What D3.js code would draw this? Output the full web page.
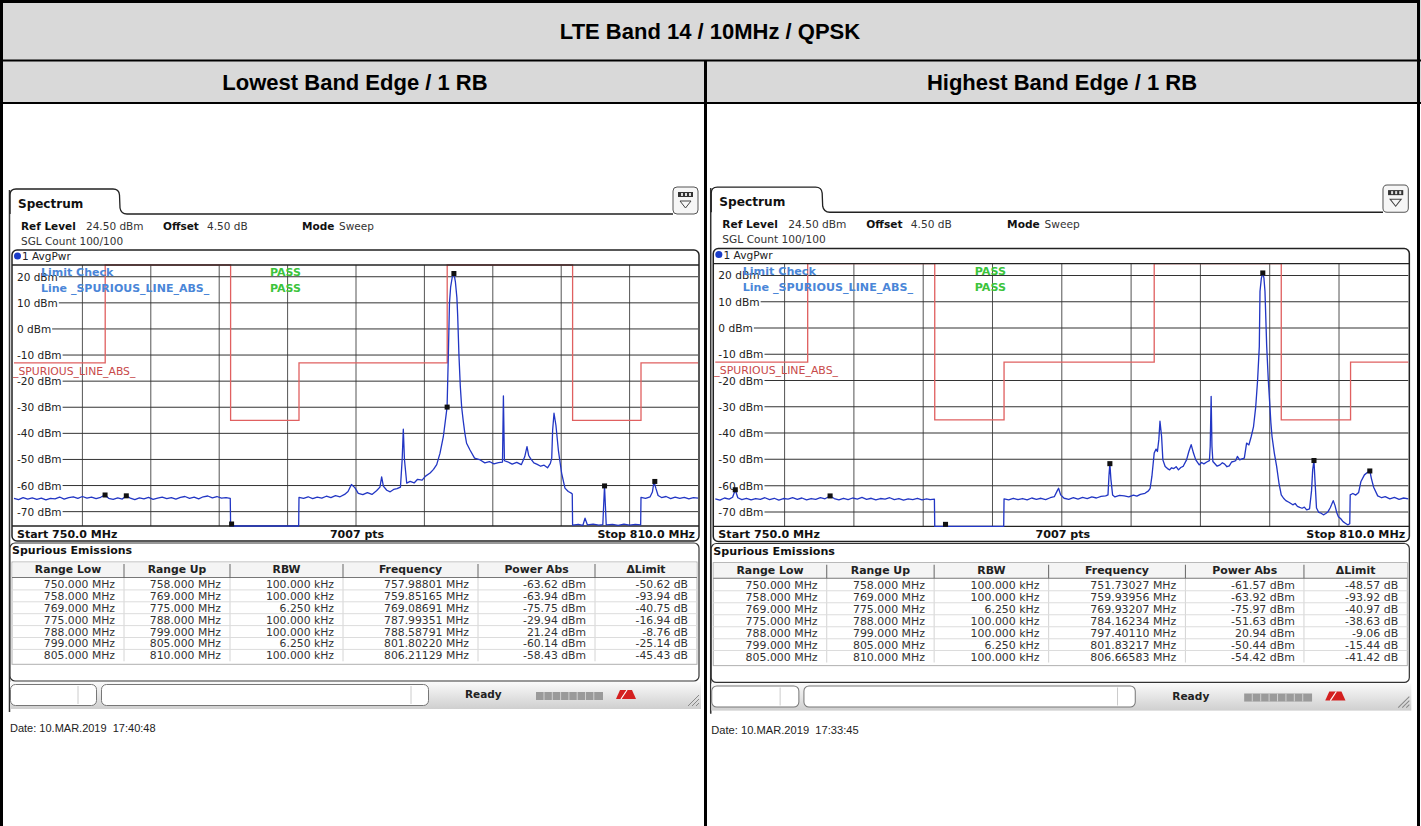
<!DOCTYPE html>
<html><head><meta charset="utf-8">
<script src="https://cdn.jsdelivr.net/npm/d3@7"></script>
<style>
body{margin:0;background:#fff}
svg{display:block}
text{font-family:"DejaVu Sans",Verdana,sans-serif}
.ar{font-family:"Liberation Sans",Arial,sans-serif}
</style>
</head><body>
<svg id="c" width="1421" height="826"></svg>
<script>
// ---------------- data ----------------
const titleText = "LTE Band 14 / 10MHz / QPSK";
const panelTitles = ["Lowest Band Edge / 1 RB", "Highest Band Edge / 1 RB"];
const freqStartMHz = 750, freqStopMHz = 810, sweepPoints = 7007;
const refLevelDbm = 24.5, bottomDbm = -75.5;
const dbmTicks = [20, 10, 0, -10, -20, -30, -40, -50, -60, -70];
const freqGridMHz = [756, 762, 768, 774, 780, 786, 792, 798, 804];
const limitEdgesMHz = [750, 758, 769, 775, 788, 799, 805, 810];
const limitLevelsDbm = [-13, 30, -35, -13, 30, -35, -13];
const tableHeaders = ["Range Low", "Range Up", "RBW", "Frequency", "Power Abs", "\u0394Limit"];
const rangeLowMHz = [750, 758, 769, 775, 788, 799, 805];
const rangeUpMHz = [758, 769, 775, 788, 799, 805, 810];
const rbwKHz = [100, 100, 6.25, 100, 100, 6.25, 100];
const lowFreqMHz = [757.98801, 759.85165, 769.08691, 787.99351, 788.58791, 801.80220, 806.21129];
const lowPowerDbm = [-63.62, -63.94, -75.75, -29.94, 21.24, -60.14, -58.43];
const lowDeltaDb = [-50.62, -93.94, -40.75, -16.94, -8.76, -25.14, -45.43];
const highFreqMHz = [751.73027, 759.93956, 769.93207, 784.16234, 797.40110, 801.83217, 806.66583];
const highPowerDbm = [-61.57, -63.92, -75.97, -51.63, 20.94, -50.44, -54.42];
const highDeltaDb = [-48.57, -93.92, -40.97, -38.63, -9.06, -15.44, -41.42];
const dateTexts = ["Date: 10.MAR.2019  17:40:48", "Date: 10.MAR.2019  17:33:45"];

const lowTrace = [
[750.0,-64.9],[750.4,-65.4],[750.8,-64.6],[751.2,-65.2],[751.6,-64.7],[752.0,-65.3],[752.4,-64.8],[752.8,-65.5],[753.2,-64.9],[753.6,-65.1],
[754.0,-64.4],[754.4,-65.2],[754.8,-64.6],[755.2,-64.3],[755.6,-64.9],[756.0,-64.2],[756.4,-64.8],[756.8,-64.4],[757.2,-65.0],[757.6,-64.5],
[757.99,-63.6],[758.3,-64.9],[758.7,-65.3],[759.1,-64.7],[759.5,-65.2],[759.85,-63.9],[760.2,-64.8],[760.6,-65.4],[761.0,-64.7],[761.4,-65.1],
[761.8,-64.5],[762.2,-65.3],[762.6,-64.8],[763.0,-64.4],[763.4,-65.0],[763.8,-64.6],[764.2,-65.2],[764.6,-64.5],[765.0,-64.2],[765.4,-64.9],
[765.8,-64.4],[766.2,-65.1],[766.6,-64.3],[767.0,-64.0],[767.4,-64.7],[767.8,-64.2],[768.2,-64.8],[768.6,-64.6],[768.97,-64.9],
[769.0,-77.0],[770.5,-77.0],[772.0,-77.0],[773.5,-77.0],[774.97,-77.0],
[775.0,-64.5],[775.4,-64.9],[775.8,-64.3],[776.2,-65.0],[776.6,-64.4],[777.0,-64.8],[777.4,-64.1],[777.8,-64.6],[778.2,-63.9],[778.6,-64.3],
[779.0,-63.4],[779.3,-62.3],[779.6,-59.6],[779.9,-60.8],[780.2,-63.0],[780.6,-63.5],[781.0,-62.7],[781.4,-63.4],[781.8,-62.0],[782.1,-60.6],
[782.25,-56.7],[782.4,-60.2],[782.7,-61.8],[783.0,-62.4],[783.3,-61.5],[783.6,-61.2],[783.9,-60.6],[784.05,-50.0],[784.15,-38.4],[784.25,-50.0],
[784.45,-59.1],[784.75,-58.4],[785.1,-59.0],[785.4,-57.6],[785.8,-57.9],[786.1,-56.4],[786.5,-55.2],[786.8,-53.8],[787.08,-52.0],[787.37,-47.6],
[787.66,-41.3],[787.99,-29.94],[788.1,-10.0],[788.2,10.0],[788.3,16.0],[788.45,20.0],[788.59,21.24],[788.72,18.0],[788.85,12.0],[788.92,5.0],
[789.03,-10.0],[789.15,-22.0],[789.27,-30.0],[789.4,-35.0],[789.55,-40.0],[789.7,-43.8],[790.0,-46.4],[790.4,-49.5],[790.9,-50.2],[791.3,-51.3],
[791.7,-50.8],[792.1,-51.7],[792.5,-51.2],[792.85,-51.0],[792.93,-25.7],[793.02,-50.5],[793.3,-50.9],[793.7,-51.8],[794.1,-51.1],[794.5,-52.0],
[794.8,-49.0],[795.0,-45.1],[795.15,-48.5],[795.3,-49.6],[795.6,-51.3],[795.9,-51.9],[796.2,-52.6],[796.5,-52.2],[796.8,-53.2],[797.05,-51.5],
[797.17,-49.5],[797.25,-38.7],[797.37,-32.3],[797.54,-37.0],[797.75,-46.4],[797.89,-50.8],[798.04,-55.3],[798.33,-61.0],[798.62,-62.3],[798.92,-63.0],
[798.97,-63.2],
[799.0,-75.2],[799.5,-74.9],[799.9,-75.3],[800.09,-72.5],[800.3,-75.1],[800.8,-74.8],[801.3,-75.2],[801.65,-75.0],[801.72,-68.0],[801.8,-60.14],
[801.88,-68.0],[801.95,-75.1],[802.5,-74.9],[803.0,-75.3],[803.5,-74.8],[804.0,-75.2],[804.5,-74.9],[804.97,-75.1],
[805.0,-64.5],[805.4,-64.9],[805.8,-64.3],[806.0,-62.5],[806.14,-58.5],[806.3,-61.0],[806.5,-63.8],[806.8,-64.6],[807.2,-64.2],[807.6,-65.0],
[808.0,-64.4],[808.4,-64.9],[808.8,-64.5],[809.2,-65.1],[809.6,-64.6],[810.0,-64.8]
];

const highTrace = [
[750.0,-65.0],[750.4,-65.5],[750.8,-64.7],[751.2,-65.1],[751.5,-64.4],[751.73,-61.57],[751.95,-64.6],[752.3,-65.3],[752.7,-64.8],[753.1,-65.4],
[753.5,-64.9],[753.9,-65.2],[754.3,-64.6],[754.7,-65.3],[755.1,-64.8],[755.5,-65.5],[755.9,-64.9],[756.3,-65.1],[756.7,-64.6],[757.1,-65.2],
[757.5,-64.7],[757.9,-65.4],[758.3,-64.9],[758.7,-65.2],[759.1,-64.6],[759.5,-65.0],[759.94,-63.92],[760.3,-64.9],[760.7,-65.4],[761.1,-64.8],
[761.5,-65.3],[761.9,-64.7],[762.3,-65.1],[762.7,-64.5],[763.1,-65.2],[763.5,-64.8],[763.9,-65.4],[764.3,-64.9],[764.7,-65.1],[765.1,-64.6],
[765.5,-65.3],[765.9,-64.9],[766.3,-65.5],[766.7,-65.0],[767.1,-65.3],[767.5,-64.8],[767.9,-65.4],[768.3,-65.0],[768.6,-65.3],[768.97,-65.1],
[769.0,-77.0],[770.5,-77.0],[772.0,-77.0],[773.5,-77.0],[774.97,-77.0],
[775.0,-65.0],[775.4,-65.4],[775.8,-64.8],[776.2,-65.3],[776.6,-64.9],[777.0,-65.4],[777.4,-64.7],[777.8,-65.2],[778.2,-64.8],[778.6,-65.3],
[779.0,-64.6],[779.35,-64.2],[779.6,-62.0],[779.72,-61.0],[779.9,-63.5],[780.2,-64.8],[780.6,-65.2],[781.0,-64.6],[781.4,-65.1],[781.8,-64.5],
[782.2,-64.9],[782.6,-64.3],[783.0,-64.7],[783.4,-64.1],[783.8,-63.9],[784.0,-63.5],[784.08,-56.5],[784.16,-51.63],[784.25,-57.5],[784.4,-63.6],
[784.6,-64.3],[785.0,-63.7],[785.4,-63.9],[785.8,-64.3],[786.2,-63.6],[786.5,-64.0],[786.8,-63.3],[787.2,-62.9],[787.5,-62.0],[787.65,-61.0],
[787.8,-56.5],[788.0,-47.6],[788.16,-46.1],[788.28,-47.0],[788.4,-42.5],[788.5,-35.5],[788.64,-41.3],[788.75,-50.2],[788.95,-52.7],[789.15,-53.5],
[789.34,-54.0],[789.5,-53.2],[789.7,-53.5],[789.9,-52.8],[790.1,-54.0],[790.3,-53.1],[790.5,-52.7],[790.8,-50.2],[791.0,-47.0],[791.2,-44.4],
[791.4,-47.6],[791.6,-50.2],[791.9,-52.1],[792.1,-51.2],[792.3,-51.7],[792.55,-51.0],[792.78,-50.5],[792.85,-45.0],[792.93,-26.0],[793.0,-45.0],
[793.08,-50.8],[793.2,-51.4],[793.45,-52.6],[793.7,-52.1],[793.9,-51.3],[794.1,-51.8],[794.3,-52.8],[794.5,-52.5],[794.7,-51.0],[794.9,-50.8],
[795.05,-50.5],[795.2,-48.9],[795.4,-50.2],[795.6,-49.8],[795.8,-49.5],[796.0,-43.8],[796.2,-44.5],[796.4,-41.3],[796.6,-37.5],[796.79,-30.0],
[796.95,-20.0],[797.1,-7.0],[797.16,14.0],[797.28,19.0],[797.4,20.94],[797.5,19.0],[797.59,14.0],[797.74,-7.0],[797.88,-20.0],[798.02,-30.0],
[798.1,-36.0],[798.2,-41.3],[798.4,-47.6],[798.6,-52.7],[798.8,-59.0],[799.0,-63.5],[799.2,-64.8],[799.4,-65.7],[799.7,-66.4],[800.0,-67.3],
[800.2,-66.8],[800.4,-67.9],[800.6,-68.3],[800.8,-68.6],[801.0,-68.2],[801.2,-69.2],[801.45,-68.8],[801.62,-62.0],[801.72,-54.0],[801.83,-50.44],
[801.92,-58.0],[802.05,-68.5],[802.25,-70.2],[802.45,-70.5],[802.65,-71.1],[802.85,-70.6],[803.05,-69.9],[803.25,-68.3],[803.35,-67.3],[803.5,-65.7],
[803.65,-67.5],[803.8,-70.2],[803.95,-71.8],[804.15,-72.6],[804.35,-73.7],[804.55,-74.3],[804.75,-74.9],[804.93,-74.5],
[804.97,-63.5],[805.2,-63.0],[805.45,-63.6],[805.7,-62.6],[805.9,-58.4],[806.2,-55.9],[806.45,-55.0],[806.67,-54.42],[806.8,-57.2],[807.0,-60.6],
[807.35,-63.9],[807.7,-64.6],[808.0,-64.2],[808.4,-65.0],[808.8,-64.5],[809.2,-65.2],[809.6,-64.7],[810.0,-65.0]
];

// ---------------- drawing ----------------
const svg = d3.select("#c");
const W = 1421, H = 826;

// outer table
svg.append("rect").attr("x",0).attr("y",0).attr("width",W).attr("height",103).attr("fill","#d9d9d9");
svg.append("text").attr("class","ar").attr("x",710).attr("y",39).attr("text-anchor","middle")
  .attr("font-size",22).attr("font-weight","bold").attr("fill","#000").text(titleText);
svg.append("text").attr("class","ar").attr("x",355).attr("y",90).attr("text-anchor","middle")
  .attr("font-size",22).attr("font-weight","bold").attr("fill","#000").text(panelTitles[0]);
svg.append("text").attr("class","ar").attr("x",1062).attr("y",90).attr("text-anchor","middle")
  .attr("font-size",22).attr("font-weight","bold").attr("fill","#000").text(panelTitles[1]);
svg.append("rect").attr("x",1.5).attr("y",1.5).attr("width",W-4).attr("height",H+10)
  .attr("fill","none").attr("stroke","#000").attr("stroke-width",3);
svg.append("line").attr("x1",0).attr("x2",W).attr("y1",60.5).attr("y2",60.5).attr("stroke","#000").attr("stroke-width",2);
svg.append("line").attr("x1",0).attr("x2",W).attr("y1",103).attr("y2",103).attr("stroke","#000").attr("stroke-width",2);
svg.append("line").attr("x1",705.5).attr("x2",705.5).attr("y1",60).attr("y2",H).attr("stroke","#000").attr("stroke-width",3);

function T(g, x, y, s, o = {}) {
  const t = g.append("text").attr("x", x).attr("y", y).text(s)
    .attr("font-size", o.size || 10.5).attr("fill", o.fill || "#222");
  if (o.bold) t.attr("font-weight", "bold");
  if (o.anchor) t.attr("text-anchor", o.anchor);
  if (o.cls) t.attr("class", o.cls);
  if (o.db) t.attr("dominant-baseline", o.db);
  return t;
}

function drawPanel(g, o) {
  const x = d3.scaleLinear().domain([freqStartMHz, freqStopMHz]).range([14, 698]);
  const y = d3.scaleLinear().domain([refLevelDbm, bottomDbm]).range([265, 526]).clamp(true);

  // screenshot left border
  g.append("line").attr("x1",9.5).attr("x2",9.5).attr("y1",190).attr("y2",712).attr("stroke","#333").attr("stroke-width",1.5);

  // tab + header
  g.append("path").attr("d","M10,214 L10,195 Q10,189 16,189 L113,189 Q119,189 119.5,195 L120,208 Q121,214 127,214 L673,214")
    .attr("fill","none").attr("stroke","#222").attr("stroke-width",1.3);
  T(g, 18, 208, "Spectrum", {size: 12, bold: true, fill: "#111"});
  g.append("rect").attr("x",673).attr("y",187).attr("width",25).attr("height",27).attr("rx",4)
    .attr("fill","#f6f6f6").attr("stroke","#555");
  g.append("rect").attr("x",678).attr("y",192).attr("width",15).attr("height",5).attr("fill","#333");
  [681,685,689].forEach(v => g.append("rect").attr("x",v).attr("y",193).attr("width",2).attr("height",3).attr("fill","#ddd"));
  g.append("path").attr("d","M680,201 L691,201 L685.5,208 Z").attr("fill","none").attr("stroke","#444");

  T(g, 21, 230, "Ref Level", {bold: true, fill: "#111"});
  T(g, 86, 230, refLevelDbm.toFixed(2) + " dBm", {fill: "#333"});
  T(g, 163, 230, "Offset", {bold: true, fill: "#111"});
  T(g, 207, 230, "4.50 dB", {fill: "#333"});
  T(g, 302, 230, "Mode", {bold: true, fill: "#111"});
  T(g, 339, 230, "Sweep", {fill: "#333"});
  T(g, 21, 245, "SGL Count 100/100", {fill: "#333"});

  // plot frame
  g.append("rect").attr("x",12).attr("y",250).attr("width",687).attr("height",291).attr("rx",5)
    .attr("fill","#fff").attr("stroke","#222").attr("stroke-width",1.5);
  g.append("circle").attr("cx",17.5).attr("cy",256).attr("r",3.5).attr("fill","#1a3cc8");
  T(g, 22, 260, "1 AvgPwr", {fill: "#222"});

  // grid
  freqGridMHz.forEach(f => g.append("line").attr("x1",x(f)).attr("x2",x(f)).attr("y1",265).attr("y2",526)
    .attr("stroke","#555").attr("stroke-width",1));
  dbmTicks.forEach(d => {
    const t = T(g, 17, y(d), d + " dBm", {fill: "#222", db: "central"});
    const w = t.node().getComputedTextLength();
    g.append("line").attr("x1",17 + w + 1).attr("x2",698).attr("y1",y(d)).attr("y2",y(d))
      .attr("stroke","#333").attr("stroke-width",1);
  });

  // limit line
  const limPts = limitLevelsDbm.map((v, i) => [limitEdgesMHz[i], v]);
  limPts.push([limitEdgesMHz[limitEdgesMHz.length - 1], limitLevelsDbm[limitLevelsDbm.length - 1]]);
  g.append("path").attr("d", d3.line().x(d => x(d[0])).y(d => y(d[1])).curve(d3.curveStepAfter)(limPts))
    .attr("fill","none").attr("stroke","#e06060").attr("stroke-width",1.3);
  T(g, 13, 375, "_SPURIOUS_LINE_ABS_", {fill: "#c84a4a", size: 10.8});

  // plot borders
  g.append("line").attr("x1",12).attr("x2",699).attr("y1",265).attr("y2",265).attr("stroke","#222").attr("stroke-width",1.3);
  g.append("line").attr("x1",12).attr("x2",699).attr("y1",526).attr("y2",526).attr("stroke","#222").attr("stroke-width",1.3);

  // trace
  g.append("path").attr("d", d3.line().x(d => x(d[0])).y(d => y(d[1])).curve(d3.curveLinear)(o.trace))
    .attr("fill","none").attr("stroke","#2236c4").attr("stroke-width",1.3).attr("stroke-linejoin","round");

  // markers
  o.freq.forEach((f, i) => {
    g.append("rect").attr("x", x(f) - 2.5).attr("y", Math.min(y(o.power[i]), 524) - 2.5)
      .attr("width",5).attr("height",5).attr("fill","#111");
  });

  // limit check texts
  T(g, 41, 276, "Limit Check", {bold: true, size: 11, fill: "#4a86d8"});
  T(g, 270, 276, "PASS", {bold: true, size: 11, fill: "#3cc43c"});
  T(g, 41, 292, "Line _SPURIOUS_LINE_ABS_", {bold: true, size: 11, fill: "#4a86d8"});
  T(g, 270, 292, "PASS", {bold: true, size: 11, fill: "#3cc43c"});

  // bottom labels
  T(g, 17, 538, "Start " + freqStartMHz.toFixed(1) + " MHz", {bold: true, size: 11, fill: "#111"});
  T(g, 357, 538, sweepPoints + " pts", {bold: true, size: 11, fill: "#111", anchor: "middle"});
  T(g, 695, 538, "Stop " + freqStopMHz.toFixed(1) + " MHz", {bold: true, size: 11, fill: "#111", anchor: "end"});

  // spurious emissions table
  g.append("rect").attr("x",10).attr("y",543).attr("width",689).attr("height",138).attr("rx",5)
    .attr("fill","#fff").attr("stroke","#333").attr("stroke-width",1.2);
  T(g, 12, 554, "Spurious Emissions", {bold: true, size: 11, fill: "#111"});
  const cols = [12, 124, 230, 343, 478, 595, 697];
  const rowTop = 578, rowH = 11.9, headTop = 562;
  g.append("rect").attr("x",12).attr("y",headTop).attr("width",685).attr("height",rowTop - headTop + 7 * rowH + 3)
    .attr("fill","#fff").attr("stroke","#b0b0b0");
  g.append("rect").attr("x",12.5).attr("y",headTop + 0.5).attr("width",684).attr("height",rowTop - headTop - 1)
    .attr("fill","#f4f4f4");
  g.append("line").attr("x1",12).attr("x2",697).attr("y1",rowTop - 0.5).attr("y2",rowTop - 0.5).attr("stroke","#777");
  cols.slice(1, -1).forEach(c => {
    g.append("line").attr("x1",c).attr("x2",c).attr("y1",headTop + 2).attr("y2",rowTop).attr("stroke","#666");
    g.append("line").attr("x1",c).attr("x2",c).attr("y1",rowTop).attr("y2",rowTop + 7 * rowH).attr("stroke","#d4d4d4");
  });
  tableHeaders.forEach((h, i) => T(g, (cols[i] + cols[i + 1]) / 2, 573, h, {bold: true, size: 10.8, fill: "#222", anchor: "middle"}));
  const rows = rangeLowMHz.map((v, i) => [
    v.toFixed(3) + " MHz", rangeUpMHz[i].toFixed(3) + " MHz", rbwKHz[i].toFixed(3) + " kHz",
    o.freq[i].toFixed(5) + " MHz", o.power[i].toFixed(2) + " dBm", o.delta[i].toFixed(2) + " dB"]);
  rows.forEach((r, i) => {
    const top = rowTop + i * rowH;
    if (i > 0) g.append("line").attr("x1",12).attr("x2",697).attr("y1",top).attr("y2",top).attr("stroke","#dcdcdc");
    r.forEach((s, j) => T(g, cols[j + 1] - 9, top + rowH / 2 + 4, s, {size: 10.8, fill: "#333", anchor: "end"}));
  });

  // status bar
  const grad = g.append("defs").append("linearGradient").attr("id", o.id + "sb").attr("x1",0).attr("x2",0).attr("y1",0).attr("y2",1);
  grad.append("stop").attr("offset","0").attr("stop-color","#fafafa");
  grad.append("stop").attr("offset","1").attr("stop-color","#cfcfcf");
  g.append("rect").attr("x",10).attr("y",682).attr("width",691).attr("height",27).attr("fill",`url(#${o.id}sb)`);
  g.append("rect").attr("x",10.5).attr("y",684.5).attr("width",86).attr("height",21).attr("rx",5).attr("fill","#fff").attr("stroke","#777");
  g.append("line").attr("x1",78).attr("x2",78).attr("y1",686).attr("y2",704).attr("stroke","#ccc");
  g.append("rect").attr("x",101.5).attr("y",684.5).attr("width",327).attr("height",21).attr("rx",5).attr("fill","#fff").attr("stroke","#777");
  g.append("line").attr("x1",411).attr("x2",411).attr("y1",686).attr("y2",704).attr("stroke","#ccc");
  T(g, 465, 698, "Ready", {bold: true, size: 10.5, fill: "#222"});
  g.append("rect").attr("x",536).attr("y",692).attr("width",67).attr("height",8).attr("fill","#9a9a9a");
  d3.range(7).forEach(k => g.append("line").attr("x1",544 + k * 8.3).attr("x2",544 + k * 8.3).attr("y1",692).attr("y2",700)
    .attr("stroke","#d0d0d0").attr("stroke-width",1));
  g.append("path").attr("d","M616,699 L620,690 L632,690 L636,699 Z").attr("fill","#d42020");
  g.append("path").attr("d","M621,699 L627,690").attr("stroke","#fff").attr("stroke-width",1.2);
  [0, 4, 8].forEach(k => g.append("line").attr("x1",688 + k).attr("y1",706).attr("x2",699).attr("y2",695 + k)
    .attr("stroke","#888").attr("stroke-width",1));

  // date
  T(g, 10, 732, o.date, {cls: "ar", size: 11, fill: "#222"}).style("white-space","pre");
}

drawPanel(svg.append("g"), {id: "L", trace: lowTrace, freq: lowFreqMHz, power: lowPowerDbm, delta: lowDeltaDb, date: dateTexts[0]});
drawPanel(svg.append("g").attr("transform","translate(701.1,-3.2) scale(1.0132,1.0068)"),
  {id: "R", trace: highTrace, freq: highFreqMHz, power: highPowerDbm, delta: highDeltaDb, date: dateTexts[1]});
</script>
</body></html>
